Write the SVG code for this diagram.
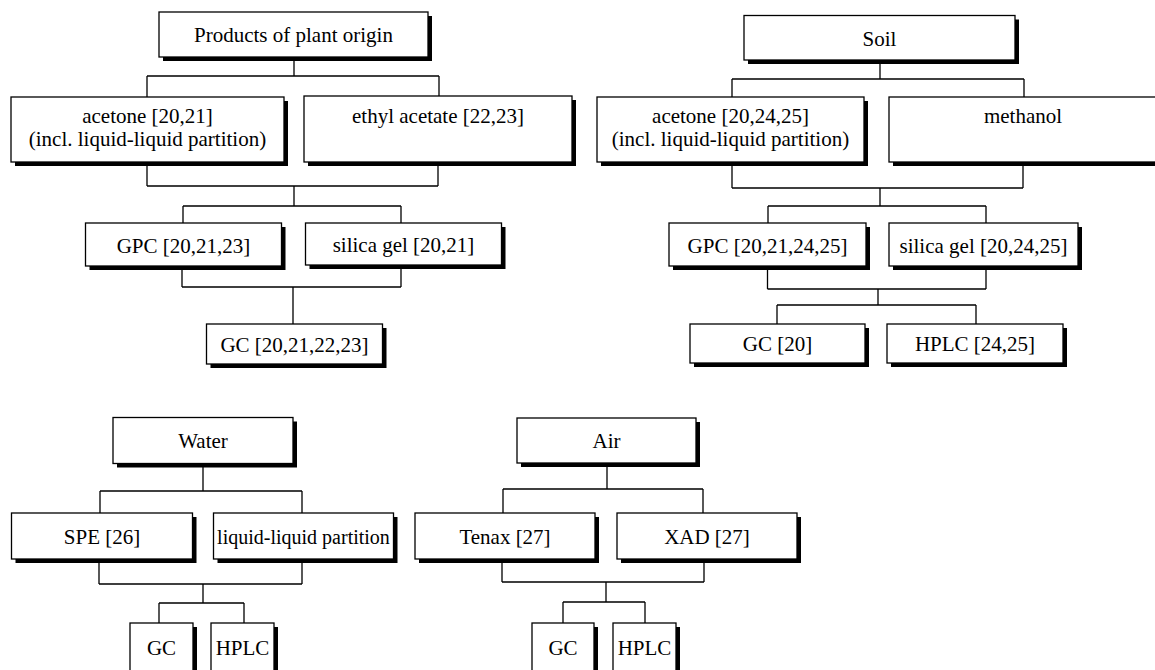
<svg xmlns="http://www.w3.org/2000/svg" width="1155" height="670" viewBox="0 0 1155 670">
<style>
.sh{fill:#000}
.bx{fill:#fff;stroke:#000;stroke-width:1.3}
text{font-family:'Liberation Serif','Times New Roman','DejaVu Serif',serif;font-size:21px;fill:#000;text-anchor:middle}
.s{font-size:20px}
#connectors path{fill:none;stroke:#000;stroke-width:1.3}
</style>
<rect width="1155" height="670" fill="#fff"/>
<g id="connectors">
<path d="M294,57V76M147,76H439M147,76V97M439,76V96"/>
<path d="M147,162V186M438,162V186M147,186H438M294,186V206M183,206H401M183,206V223M401,206V223"/>
<path d="M182,266V287M401,265V287M182,287H401M293,287V324"/>
<path d="M880,60V79M732,79H1024M732,79V97M1024,79V97"/>
<path d="M732,162V188M1023,162V188M732,188H1023M880,188V206M768,206H986M768,206V223M986,206V223"/>
<path d="M767.5,266V289M986,266V289M767.5,289H986M878,289V305M777,305H976M777,305V324M976,305V324"/>
<path d="M203,463V491M100,491H302M100,491V513M302,491V513M99,559V584M302,559V584M99,584H302M203,584V603M159,603H244M159,603V623M244,603V623"/>
<path d="M607,463V489M503,489H703M503,489V513M703,489V513M502,559V582M704,559V582M502,582H704M606,582V602M563,602H645M563,602V623M645,602V623"/>
</g>
<g id="p0" font-family="Liberation Serif, serif"><rect class="sh" x="163" y="16" width="269" height="45"/><rect class="bx" x="159" y="12" width="269" height="45"/><text x="293.5" y="42">Products of plant origin</text></g>
<g id="p1"><rect class="sh" x="15" y="101" width="273" height="65"/><rect class="bx" x="11" y="97" width="273" height="65"/><text x="147.5" y="123">acetone [20,21]</text><text x="147.5" y="146">(incl. liquid-liquid partition)</text></g>
<g id="p2"><rect class="sh" x="308" y="100" width="268" height="66"/><rect class="bx" x="304" y="96" width="268" height="66"/><text x="438" y="123">ethyl acetate [22,23]</text></g>
<g id="p3"><rect class="sh" x="89.5" y="227" width="196" height="43"/><rect class="bx" x="85.5" y="223" width="196" height="43"/><text x="183.5" y="253">GPC [20,21,23]</text></g>
<g id="p4"><rect class="sh" x="309.5" y="227" width="196" height="42"/><rect class="bx" x="305.5" y="223" width="196" height="42"/><text x="403.5" y="252">silica gel [20,21]</text></g>
<g id="p5"><rect class="sh" x="210.5" y="328" width="176" height="40"/><rect class="bx" x="206.5" y="324" width="176" height="40"/><text x="294.5" y="352">GC [20,21,22,23]</text></g>
<g id="s0"><rect class="sh" x="748" y="19.5" width="271" height="44.5"/><rect class="bx" x="744" y="15.5" width="271" height="44.5"/><text x="879.5" y="46">Soil</text></g>
<g id="s1"><rect class="sh" x="601" y="101" width="267" height="65"/><rect class="bx" x="597" y="97" width="267" height="65"/><text x="730.5" y="123">acetone [20,24,25]</text><text x="730.5" y="146">(incl. liquid-liquid partition)</text></g>
<g id="s2"><rect class="sh" x="893" y="101" width="268" height="65"/><rect class="bx" x="889" y="97" width="268" height="65"/><text x="1023" y="123">methanol</text></g>
<g id="s3"><rect class="sh" x="673" y="227" width="197" height="43"/><rect class="bx" x="669" y="223" width="197" height="43"/><text x="767.5" y="253">GPC [20,21,24,25]</text></g>
<g id="s4"><rect class="sh" x="893" y="227" width="189" height="43"/><rect class="bx" x="889" y="223" width="189" height="43"/><text x="983.5" y="253">silica gel [20,24,25]</text></g>
<g id="s5"><rect class="sh" x="694" y="328" width="175" height="39"/><rect class="bx" x="690" y="324" width="175" height="39"/><text x="777.5" y="351">GC [20]</text></g>
<g id="s6"><rect class="sh" x="891" y="328" width="176" height="39"/><rect class="bx" x="887" y="324" width="176" height="39"/><text x="975" y="351">HPLC [24,25]</text></g>
<g id="w0"><rect class="sh" x="117" y="421.5" width="180" height="46"/><rect class="bx" x="113" y="417.5" width="180" height="46"/><text x="203" y="447.5">Water</text></g>
<g id="w1"><rect class="sh" x="15.5" y="517" width="181" height="46"/><rect class="bx" x="11.5" y="513" width="181" height="46"/><text x="102" y="543.5">SPE [26]</text></g>
<g id="w2"><rect class="sh" x="217.5" y="517" width="180" height="46"/><rect class="bx" x="213.5" y="513" width="180" height="46"/><text class="s" x="303.5" y="543.5">liquid-liquid partition</text></g>
<g id="w3"><rect class="sh" x="134" y="627" width="63" height="60"/><rect class="bx" x="130" y="623" width="63" height="60"/><text x="161.5" y="655">GC</text></g>
<g id="w4"><rect class="sh" x="215" y="627" width="63" height="60"/><rect class="bx" x="211" y="623" width="63" height="60"/><text x="242.5" y="655">HPLC</text></g>
<g id="a0"><rect class="sh" x="521" y="422" width="179" height="45"/><rect class="bx" x="517" y="418" width="179" height="45"/><text x="606.5" y="448">Air</text></g>
<g id="a1"><rect class="sh" x="419" y="517" width="180" height="46"/><rect class="bx" x="415" y="513" width="180" height="46"/><text x="505" y="543.5">Tenax [27]</text></g>
<g id="a2"><rect class="sh" x="621" y="517" width="180" height="46"/><rect class="bx" x="617" y="513" width="180" height="46"/><text x="707" y="543.5">XAD [27]</text></g>
<g id="a3"><rect class="sh" x="536" y="627" width="62" height="60"/><rect class="bx" x="532" y="623" width="62" height="60"/><text x="563" y="655">GC</text></g>
<g id="a4"><rect class="sh" x="617" y="627" width="63" height="60"/><rect class="bx" x="613" y="623" width="63" height="60"/><text x="644.5" y="655">HPLC</text></g>
</svg>
